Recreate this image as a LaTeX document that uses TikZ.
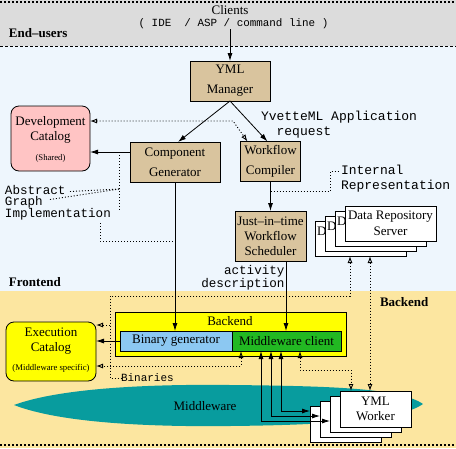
\documentclass[tikz,border=0pt]{standalone}
\usepackage{fontspec}
\setmainfont{Liberation Serif}
\setmonofont{Liberation Mono}
\usetikzlibrary{arrows.meta,calc}
\definecolor{cGray}{HTML}{DCDCDC}
\definecolor{cBlue}{HTML}{EEF6FD}
\definecolor{cSand}{HTML}{FCE6A0}
\definecolor{cTan}{HTML}{D9C49E}
\definecolor{cPink}{HTML}{FFC4C4}
\definecolor{cYel}{HTML}{FFFF00}
\definecolor{cLBlue}{HTML}{8CC8F2}
\definecolor{cGreen}{HTML}{22B822}
\definecolor{cTeal}{HTML}{089C9E}
\begin{document}
\begin{tikzpicture}[x=1pt,y=-1pt,
  font=\fontsize{13}{15}\selectfont,
  every node/.style={inner sep=0pt,outer sep=0pt},
  fhead/.tip={Latex[length=8pt,width=5pt]},
  ohead/.tip={Latex[open,length=7pt,width=5pt]},
  tanbox/.style={draw,fill=cTan,align=center,line width=0.8pt},
  stackbox/.style={draw,fill=white,align=center,line width=0.8pt},
  catbox/.style={draw,rounded corners=8pt,line width=0.8pt},
  ttlab/.style={font=\ttfamily\fontsize{12.6}{10.6}\selectfont},
  ttlabw/.style={font=\ttfamily\fontsize{13}{15}\selectfont},
  smalltxt/.style={font=\fontsize{8.7}{10}\selectfont},
  bandtitle/.style={font=\bfseries\fontsize{13}{15}\selectfont,anchor=west},
  arr/.style={line width=0.8pt,-fhead},
  biarr/.style={line width=0.8pt,fhead-fhead},
  dotl/.style={line width=0.9pt,dash pattern=on 1pt off 2pt},
]
\useasboundingbox (0,0) rectangle (456,448);
% bands
\fill[cGray] (0,0) rectangle (456,46);
\fill[cBlue] (0,46) rectangle (456,291);
\fill[cSand] (0,291) rectangle (456,448);
\draw[line width=2pt,dash pattern=on 2pt off 2pt] (0,1.5) -- (456,1.5);
\draw[line width=1pt,dash pattern=on 3pt off 2pt] (0,46.5) -- (456,46.5);
\draw[line width=2pt,dash pattern=on 2pt off 2pt] (0,445) -- (456,445);

\node[bandtitle] (endusers) at (9,33) {End--users};
\node[bandtitle] (frontend) at (9,282) {Frontend};
\node[bandtitle] (backendlab) at (380,302) {Backend};

% clients
\node (clientsA) at (230,10.5) {Clients};
\node[font=\ttfamily\fontsize{10.9}{12}\selectfont] (clientsB) at (233.5,24) {( IDE\ \ / ASP / command line )};

\node[tanbox,minimum width=80,minimum height=40] (mgr) at (230,81) {YML\\[5pt]Manager};
\draw[arr] (mgr.north |- clientsB.south) -- (mgr.north);

% development catalog
\node[catbox,fill=cPink,minimum width=79,minimum height=65] (devcat) at (50.5,138.5) {};
\node[align=center] (devcatT) at (50.5,130) {Development\\Catalog};
\node[smalltxt] (devcatS) at (50.5,158) {(Shared)};

\node[tanbox,minimum width=90,minimum height=40] (compgen) at (175,162) {Component\\[5pt]Generator};
\node[tanbox,minimum width=60,minimum height=40] (wfcomp) at (270.5,161.5) {Workflow\\[5pt]Compiler};
\node[tanbox,minimum width=71,minimum height=50] (sched) at (270.5,236) {Just--in--time\\Workflow\\Scheduler};

\draw[arr] (mgr.south) -- ($(compgen.north)+(3,0)$);
\draw[arr] (mgr.south) -- ($(wfcomp.north)+(-3,0)$);
\coordinate (reqbend) at (233,121);
\draw[dotl,ohead-ohead] (devcat.east |- reqbend) -- (reqbend) -- ($(wfcomp.north west)+(7,0)$);
\node[ttlabw,align=left,anchor=west] (yvT) at (261,124.5) {YvetteML Application\\\phantom{Yv}request};

\coordinate (cgW) at ($(compgen.west)+(0,-10)$);
\draw[arr] (cgW) -- (cgW -| devcat.east);
\node[ttlab,align=left,anchor=west] (agi) at (5,203) {Abstract\\Graph\\Implementation};
\coordinate (agiJoin) at (119.5,189);
\coordinate (absEnd) at (70,191.5);
\coordinate (grEnd) at (50,199.5);
\draw[dotl] (cgW -| agiJoin) -- (agiJoin |- 0,211);
\draw[dotl] (absEnd) -- (agiJoin);
\draw[dotl] (grEnd) -- (agiJoin);
\coordinate (implS) at (100,223);
\draw[dotl] (implS) |- (compgen.south |- 0,241);

\node[ttlabw,align=left,anchor=west] (irT) at (341,179) {Internal\\Representation};
\coordinate (irBend) at (330,191);
\draw[dotl] (wfcomp.south |- irBend) -- (irBend) -- (irBend |- 0,171) -- ($(irT.west |- 0,171)+(-3,0)$);

\draw[arr] (wfcomp.south) -- (sched.north);

% data repository stack (back boxes show only the start of their text)
\foreach \i/\cx/\cy in {4/360.5/238.5,3/370.5/233.5,2/380.5/228.5}{
  \node[stackbox,minimum width=91,minimum height=35] (dr\i) at (\cx,\cy) {};
  \node[anchor=west] (dr\i D) at ($(dr\i.north west)+(2,10)$) {D};
}
\node[stackbox,minimum width=91,minimum height=35] (dr1) at (390.5,223.5) {Data Repository\\[1pt]Server};

% middleware
\fill[cTeal] (14,405) .. controls (60,388) and (150,384) .. (230,385) .. controls (330,386) and (400,388) .. (423,404) .. controls (400,420) and (330,425) .. (230,426) .. controls (150,427) and (60,423) .. (14,405) -- cycle;
\node (mwT) at (205,406) {Middleware};

% backend
\node[draw,fill=cYel,line width=0.8pt,minimum width=231,minimum height=44] (backend) at (230.5,334) {};
\node (backendT) at (230,321.5) {Backend};
\node[draw,fill=cLBlue,line width=0.8pt,minimum width=112,minimum height=20] (bingen) at (176,341) {Binary generator};
\node[draw,fill=cGreen,line width=0.8pt,minimum width=109,minimum height=20] (mwclient) at (286.5,341) {Middleware client};
\node[catbox,fill=cYel,minimum width=90,minimum height=59] (execcat) at (51,351.5) {};
\node[align=center] (execT) at (51,341) {Execution\\Catalog};
\node[smalltxt] (execS) at (51,368) {(Middleware specific)};

\draw[arr] (compgen.south) -- (compgen.south |- bingen.north);
\coordinate (actX) at (286,0);
\draw[arr] (sched.south -| actX) -- (mwclient.north -| actX);
\node[ttlab,align=right,anchor=east] (actT) at (284.5,278) {activity\\description};
\draw[arr] (bingen.west) -- (bingen.west -| execcat.east);

% workers
\foreach \i/\cx/\cy in {4/345.5/424,3/355.5/419,2/365.5/414}
  \node[stackbox,minimum width=71,minimum height=36] (w\i) at (\cx,\cy) {};
\node[stackbox,minimum width=71,minimum height=36] (w1) at (375.5,409) {YML\\Worker};

% dotted network
\coordinate (drA) at (350,0);
\coordinate (drB) at (370,0);
\coordinate (bkTL) at (110,296);
\coordinate (bkBL) at (110,378);
\node[font=\ttfamily\fontsize{11}{12}\selectfont,anchor=west] (binT) at (121,378) {Binaries};
\draw[dotl,ohead-] (dr4.south -| drA) |- (bkTL) -- (bkBL) -- (binT.west);
\draw[dotl,-ohead] (bkTL |- 0,325) -- (execcat.east |- 0,325);
\draw[dotl,ohead-ohead] (bingen.south -| 241,0) |- (execcat.east |- 0,366);
\draw[dotl,ohead-ohead] (mwclient.south -| 300,0) |- (351,370) -- (w1.north -| 351,0);
\draw[dotl,ohead-ohead] (dr4.south -| drB) -- (w1.north -| drB);

% middleware client <-> workers
\draw[biarr] (mwclient.south -| 261,0) |- (w2.west |- 0,421);
\draw[biarr] (mwclient.south -| 271,0) |- (w3.west |- 0,416);
\draw[biarr] (mwclient.south -| 281,0) |- (w4.west |- 0,411);
\end{tikzpicture}
\end{document}
